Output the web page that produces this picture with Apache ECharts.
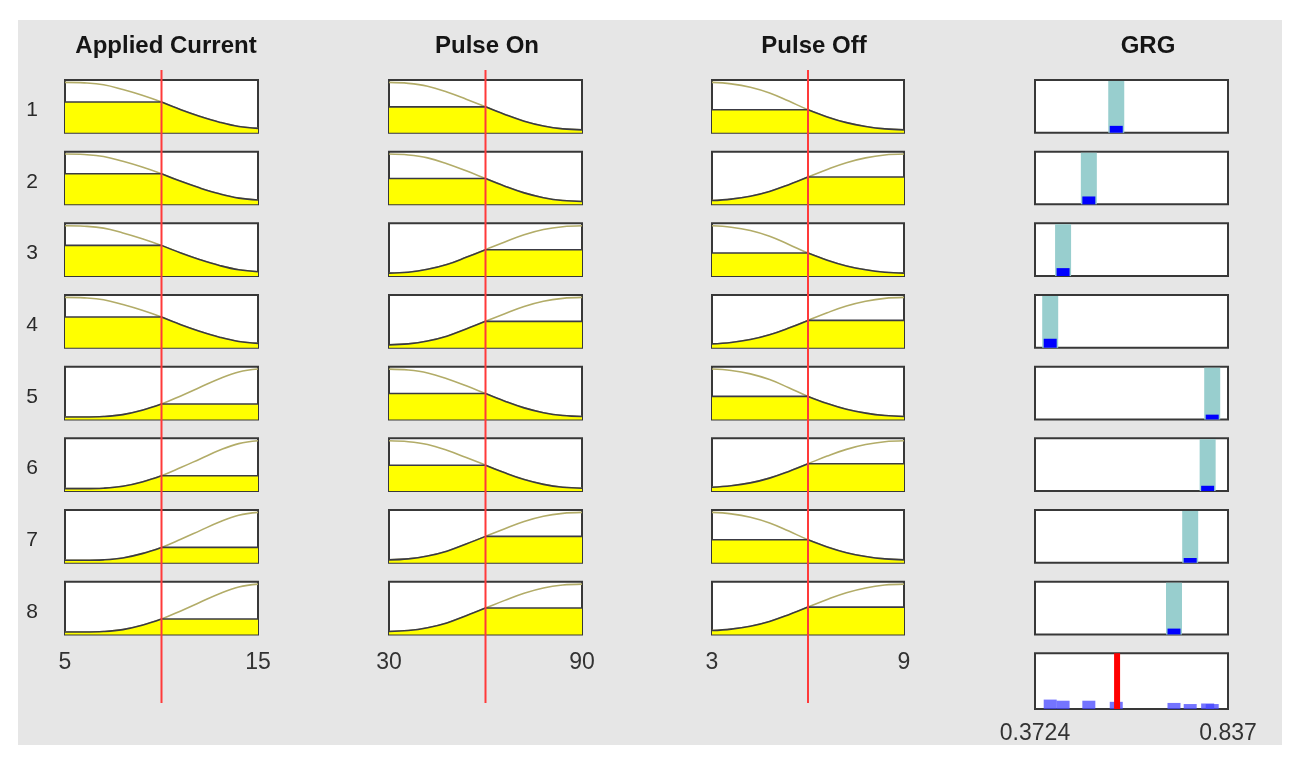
<!DOCTYPE html>
<html>
<head>
<meta charset="utf-8">
<script src="https://cdn.jsdelivr.net/npm/echarts@6/dist/echarts.min.js"></script>
<style>
html, body { margin: 0; padding: 0; background: #fff; }
#panel { position: absolute; left: 18px; top: 20px; width: 1264px; height: 725px; background: #e6e6e6; }
#main { position: absolute; left: 0; top: 0; width: 1305px; height: 768px; }
</style>
</head>
<body>
<div id="panel"></div>
<div id="main"></div>
<script>
"use strict"
// membership functions
var acX = [5, 6, 7, 8, 9, 10, 11, 12, 13, 14, 15];
var acLow = [1.0, 0.99, 0.95, 0.85, 0.73, 0.59, 0.43, 0.29, 0.17, 0.08, 0.04];
var acHigh = [0.0, 0.0, 0.01, 0.05, 0.14, 0.27, 0.44, 0.62, 0.80, 0.94, 1.0];
var onX = [30, 36, 42, 48, 54, 60, 66, 72, 78, 84, 90];
var onLow = [1.0, 0.98, 0.92, 0.80, 0.65, 0.49, 0.33, 0.19, 0.09, 0.03, 0.01];
var onHigh = [0.01, 0.03, 0.09, 0.19, 0.34, 0.50, 0.66, 0.81, 0.92, 0.98, 1.0];
var offX = [3, 3.6, 4.2, 4.8, 5.4, 6, 6.6, 7.2, 7.8, 8.4, 9];
var offLow = [1.0, 0.97, 0.90, 0.78, 0.61, 0.43, 0.28, 0.16, 0.08, 0.03, 0.01];
var offHigh = [0.03, 0.06, 0.12, 0.22, 0.36, 0.52, 0.68, 0.82, 0.92, 0.98, 1.0];

var inputNames = ['Applied Current', 'Pulse On', 'Pulse Off'];
var inputValues = [10, 60, 6];
var ruleLabels = ['1', '2', '3', '4', '5', '6', '7', '8'];
var ruleAC = ['low', 'low', 'low', 'low', 'high', 'high', 'high', 'high'];
var ruleOn = ['low', 'low', 'high', 'high', 'low', 'low', 'high', 'high'];
var ruleOff = ['low', 'high', 'low', 'high', 'low', 'high', 'low', 'high'];

// output GRG
var grgName = 'GRG';
var grgRange = [0.3724, 0.837];
var grgRule = [0.568, 0.502, 0.440, 0.409, 0.799, 0.788, 0.746, 0.707];
var grgFiring = [0.13, 0.15, 0.15, 0.17, 0.09, 0.10, 0.09, 0.11];
var grgOutput = 0.570;

// layout
var colLeft = [65, 389, 712, 1035];
var colWidth = [193, 193, 192, 193];
var titleX = [166, 487, 814, 1148];
var top0 = 80, rowStep = 71.67, boxH = 52.7;

var font = "'Liberation Sans', Arial, sans-serif";
var mfSets = [
  { x: acX, low: acLow, high: acHigh },
  { x: onX, low: onLow, high: onHigh },
  { x: offX, low: offLow, high: offHigh }
];
var rules = [ruleAC, ruleOn, ruleOff];

var grids = [], xAxes = [], yAxes = [], series = [], titles = [];

function addGrid(left, top, width, height, visible) {
  grids.push({
    left: left, top: top, width: width, height: height,
    show: visible, backgroundColor: '#fff', borderColor: '#383838', borderWidth: 2,
    outerBoundsMode: 'none', containLabel: false
  });
  return grids.length - 1;
}
function labelAxis(vals, margin) {
  return {
    show: true, customValues: vals, showMinLabel: true, showMaxLabel: true,
    margin: margin, fontSize: 23, color: '#333', fontFamily: font,
    formatter: function (v) { return String(v); }
  };
}

for (var c = 0; c < 3; c++) {
  var set = mfSets[c];
  var xs = set.x;
  var k = xs.indexOf(inputValues[c]);
  for (var r = 0; r < 8; r++) {
    var gi = addGrid(colLeft[c], top0 + r * rowStep, colWidth[c], boxH, true);
    xAxes.push({
      gridIndex: gi, type: 'value', min: xs[0], max: xs[xs.length - 1],
      axisLine: { show: false }, axisTick: { show: false }, splitLine: { show: false },
      axisLabel: r === 7 ? labelAxis([xs[0], xs[xs.length - 1]], 17) : { show: false }
    });
    yAxes.push({
      gridIndex: gi, type: 'value', min: -0.05, max: 1.05,
      axisLine: { show: false }, axisTick: { show: false }, splitLine: { show: false },
      axisLabel: { show: false },
      name: c === 0 ? ruleLabels[r] : '', nameLocation: 'middle', nameRotate: 0, nameGap: 27,
      nameTextStyle: { fontSize: 21, color: '#2a2a2a', fontFamily: font, verticalAlign: 'top', lineHeight: 8 }
    });
    var kind = rules[c][r];
    var mf = set[kind];
    var level = mf[k];
    var curve = xs.map(function (v, i) { return [v, mf[i]]; });
    var flat, under;
    if (kind === 'low') {
      flat = [[xs[0], level], [xs[k], level]];
      under = curve.slice(k);
    } else {
      flat = [[xs[k], level], [xs[xs.length - 1], level]];
      under = curve.slice(0, k + 1);
    }
    series.push({
      type: 'line', xAxisIndex: gi, yAxisIndex: gi, data: curve, smooth: 0.4,
      symbol: 'none', silent: true, z: 2, lineStyle: { color: '#b2ac68', width: 1.6 }
    });
    series.push({
      type: 'line', xAxisIndex: gi, yAxisIndex: gi, data: under, smooth: 0.4,
      symbol: 'none', silent: true, z: 3, lineStyle: { color: '#3a3a44', width: 1.6 },
      areaStyle: { color: '#ffff00', opacity: 1, origin: 'start' }
    });
    series.push({
      type: 'line', xAxisIndex: gi, yAxisIndex: gi, data: flat,
      symbol: 'none', silent: true, z: 3, lineStyle: { color: '#3a3a44', width: 1.6 },
      areaStyle: { color: '#ffff00', opacity: 1, origin: 'start' }
    });
  }
}

// GRG rule rows
function ruleBars(color, wTeal, wBlue, showTeal) {
  return function (params, api) {
    var x = api.value(0), h = api.value(1);
    var pTop = api.coord([x, 1]);
    var pBot = api.coord([x, 0]);
    var pH = api.coord([x, h]);
    var kids = [];
    if (showTeal) {
      kids.push({ type: 'rect', shape: { x: pTop[0] - wTeal / 2, y: pTop[1] + 1, width: wTeal, height: pBot[1] - pTop[1] - 1 }, style: { fill: '#98cece' } });
    }
    kids.push({ type: 'rect', shape: { x: pTop[0] - wBlue / 2, y: pH[1], width: wBlue, height: pBot[1] - pH[1] }, style: { fill: color } });
    return { type: 'group', children: kids };
  };
}

for (var r2 = 0; r2 < 9; r2++) {
  var g = addGrid(colLeft[3], top0 + r2 * rowStep, colWidth[3], boxH + (r2 === 8 ? 3 : 0), true);
  xAxes.push({
    gridIndex: g, type: 'value', min: grgRange[0], max: grgRange[1],
    axisLine: { show: false }, axisTick: { show: false }, splitLine: { show: false },
    axisLabel: r2 === 8 ? labelAxis(grgRange, 13) : { show: false }
  });
  yAxes.push({
    gridIndex: g, type: 'value', min: 0, max: 1, show: false
  });
  if (r2 < 8) {
    series.push({
      type: 'custom', xAxisIndex: g, yAxisIndex: g, silent: true, z: 3,
      data: [[grgRule[r2], grgFiring[r2]]],
      renderItem: ruleBars('#0000ff', 16, 13, true)
    });
  } else {
    series.push({
      type: 'custom', xAxisIndex: g, yAxisIndex: g, silent: true, z: 3,
      data: grgRule.map(function (v, i) { return [v, grgFiring[i]]; }),
      renderItem: ruleBars('rgba(70,70,255,0.75)', 0, 13, false)
    });
    series.push({
      type: 'line', xAxisIndex: g, yAxisIndex: g, silent: true, z: 4, symbol: 'none',
      data: [[grgOutput, 0], [grgOutput, 1]],
      lineStyle: { color: '#ff0000', width: 6 }
    });
  }
}

// red input lines through each input column
for (var c2 = 0; c2 < 3; c2++) {
  var xs2 = mfSets[c2].x;
  var go = addGrid(colLeft[c2], 70, colWidth[c2], 633, false);
  xAxes.push({ gridIndex: go, type: 'value', min: xs2[0], max: xs2[xs2.length - 1], show: false });
  yAxes.push({ gridIndex: go, type: 'value', min: 0, max: 1, show: false });
  series.push({
    type: 'line', xAxisIndex: go, yAxisIndex: go, silent: true, z: 10, symbol: 'none',
    data: [[inputValues[c2], 0], [inputValues[c2], 1]],
    lineStyle: { color: '#ff3a3a', width: 2 }
  });
}

var heads = inputNames.concat([grgName]);
for (var t = 0; t < heads.length; t++) {
  titles.push({
    text: heads[t], left: titleX[t], top: 34, textAlign: 'center', padding: 0,
    textStyle: { fontSize: 24, fontWeight: 'bold', color: '#151515', fontFamily: font }
  });
}

var chart = echarts.init(document.getElementById('main'));
chart.setOption({
  animation: false,
  backgroundColor: 'transparent',
  title: titles,
  grid: grids,
  xAxis: xAxes,
  yAxis: yAxes,
  series: series
});
</script>
</body>
</html>
